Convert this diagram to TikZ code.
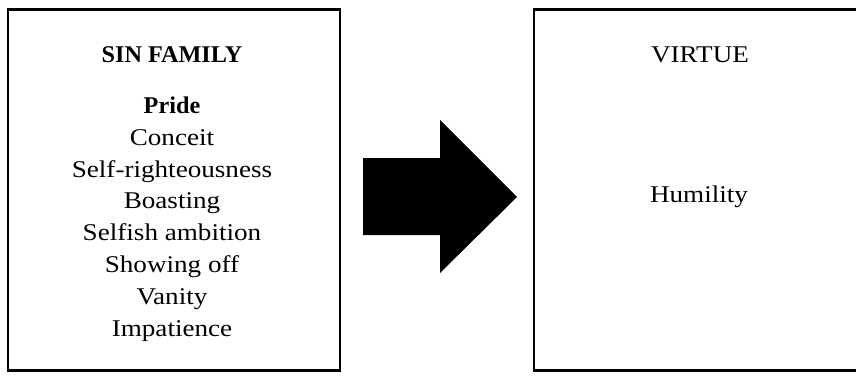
\documentclass[tikz,border=0pt]{standalone}
\usepackage{fontspec}
\setmainfont{Liberation Serif}[FakeStretch=1.13,BoldFeatures={FakeStretch=1.01}]
\begin{document}
\begin{tikzpicture}[x=1pt,y=-1pt,
  panel/.style={draw=black,line width=2.2pt,minimum width=332pt,minimum height=361pt,inner sep=0pt},
  itemtext/.style={anchor=base,inner sep=0pt,font=\fontsize{24}{28}\selectfont},
  headtext/.style={itemtext,font=\fontsize{24}{28}\selectfont\bfseries}]
\clip (0,0) rectangle (856,375);
\fill[white] (0,0) rectangle (856,375);
\node[panel] (sin) at (174,190) {};
\node[panel] (virtue) at (700,190) {};
\node[headtext] (sinhead) at (172,62) {SIN FAMILY};
\node[headtext] (pride) at (172,113) {Pride};
\node[itemtext] (conceit) at (172,145) {Conceit};
\node[itemtext] (selfr) at (172,177) {Self-righteousness};
\node[itemtext] (boast) at (172,208) {Boasting};
\node[itemtext] (selfish) at (172,240) {Selfish ambition};
\node[itemtext] (show) at (172,272) {Showing off};
\node[itemtext] (vanity) at (172,304) {Vanity};
\node[itemtext] (impat) at (172,336) {Impatience};
\node[itemtext] (virthead) at (700,62) {VIRTUE};
\node[itemtext] (humility) at (699,202) {Humility};
\fill[black] (363,158) -- (440,158) -- (440,120) -- (517,197) -- (440,273) -- (440,235) -- (363,235) -- cycle;
\end{tikzpicture}
\end{document}
